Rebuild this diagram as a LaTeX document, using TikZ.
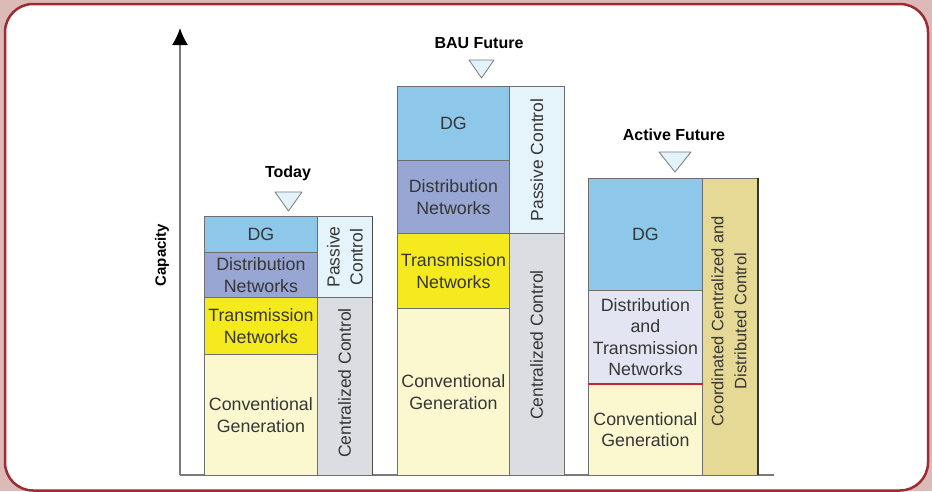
\documentclass[tikz,border=0pt]{standalone}
\usepackage{fontspec}
\setmainfont{Liberation Sans}
\usetikzlibrary{arrows.meta}
\definecolor{outerbg}{HTML}{DBBAB8}
\definecolor{framered}{HTML}{9E2B31}
\definecolor{dgblue}{HTML}{8DC8EA}
\definecolor{distblue}{HTML}{97A6D3}
\definecolor{transyellow}{HTML}{F5EA1E}
\definecolor{convyellow}{HTML}{FBF8CF}
\definecolor{passivebg}{HTML}{E5F4FB}
\definecolor{centralbg}{HTML}{DCDDE2}
\definecolor{dtbg}{HTML}{E3E5F2}
\definecolor{coordbg}{HTML}{E5D995}
\definecolor{labelgray}{HTML}{363636}
\definecolor{edgegray}{HTML}{6E6E6E}
\definecolor{axisgray}{HTML}{7A7A7A}
\definecolor{trifill}{HTML}{E2F3FB}
\definecolor{linered}{HTML}{CC2233}
\tikzset{
  cell/.style={draw=edgegray, line width=0.8pt, inner sep=0pt, anchor=north west,
    align=center, text=labelgray, font=\fontsize{17.8}{21.5}\selectfont},
  vlabel/.style={rotate=90, align=center, text=labelgray, inner sep=0pt},
  title/.style={font=\bfseries\fontsize{16}{19}\selectfont, text=black, inner sep=0pt},
  marker/.style={draw=axisgray, fill=trifill, line width=0.8pt, line join=round},
  axisline/.style={draw=axisgray, line width=1.5pt}
}
\begin{document}
\begin{tikzpicture}[x=1pt,y=-1pt]
\useasboundingbox (0,0) rectangle (932,491);
\begin{scope}
\clip (0,0) rectangle (932,491);
\fill[outerbg] (0,0) rectangle (932,491);
\draw[framered, fill=white, line width=2.5pt, rounded corners=28pt] (5,4) rectangle (928,490.5);
\end{scope}

% axes
\coordinate (orig) at (180,475);
\coordinate (ytop) at (180,28);
\coordinate (xend) at (774,475);
\draw[axisline] (orig) -- (xend);
\draw[axisline, -{Latex[length=17pt,width=16pt,color=black,fill=black]}] (orig) -- (ytop);
\node[rotate=90, font=\bfseries\fontsize{15}{17}\selectfont, inner sep=0pt] (cap) at (162,255) {Capacity};

% Today
\node[cell, fill=dgblue, minimum width=113pt, minimum height=36pt] (tdg) at (204,216) {DG};
\node[cell, fill=distblue, minimum width=113pt, minimum height=45pt] (tdist) at (204,252) {Distribution\\Networks};
\node[cell, fill=transyellow, minimum width=113pt, minimum height=57pt] (ttrans) at (204,297) {Transmission\\Networks};
\node[cell, fill=convyellow, minimum width=113pt, minimum height=121pt] (tconv) at (204,354) {Conventional\\Generation};
\node[cell, fill=passivebg, minimum width=55pt, minimum height=81pt] (tpass) at (317,216) {};
\node[cell, fill=centralbg, minimum width=55pt, minimum height=178pt] (tcent) at (317,297) {};
\node[vlabel, font=\fontsize{17.5}{23}\selectfont] (tpassl) at (tpass.center) {Passive\\Control};
\node[vlabel, font=\fontsize{17.5}{21}\selectfont] (tcentl) at (344.5,383) {Centralized Control};
\draw[axisgray!60!black, line width=1pt] (372,216) -- (372,475);
\node[title] (ttitle) at (288,173) {Today};
\draw[marker] (275,192) -- (302,192) -- (288.5,211) -- cycle;

% BAU Future
\node[cell, fill=dgblue, minimum width=112pt, minimum height=74pt] (bdg) at (397,86) {DG};
\node[cell, fill=distblue, minimum width=112pt, minimum height=73pt] (bdist) at (397,160) {Distribution\\Networks};
\node[cell, fill=transyellow, minimum width=112pt, minimum height=75pt] (btrans) at (397,233) {Transmission\\Networks};
\node[cell, fill=convyellow, minimum width=112pt, minimum height=167pt] (bconv) at (397,308) {Conventional\\Generation};
\node[cell, fill=passivebg, minimum width=55pt, minimum height=147pt] (bpass) at (509,86) {};
\node[cell, fill=centralbg, minimum width=55pt, minimum height=242pt] (bcent) at (509,233) {};
\node[vlabel, font=\fontsize{17.5}{21}\selectfont] (bpassl) at (bpass.center) {Passive Control};
\node[vlabel, font=\fontsize{17.5}{21}\selectfont] (bcentl) at (536.5,345) {Centralized Control};
\node[title] (btitle) at (479,43) {BAU Future};
\draw[marker] (469,60) -- (494,60) -- (481.5,78) -- cycle;

% Active Future
\node[cell, fill=dgblue, minimum width=114pt, minimum height=112pt] (adg) at (588,178) {DG};
\node[cell, fill=dtbg, minimum width=114pt, minimum height=93pt] (adt) at (588,290) {Distribution\\and\\Transmission\\Networks};
\node[cell, fill=convyellow, minimum width=114pt, minimum height=92pt] (aconv) at (588,383) {Conventional\\Generation};
\node[cell, fill=coordbg, minimum width=56pt, minimum height=297pt] (acoord) at (702,178) {};
\node[vlabel, font=\fontsize{16.5}{23}\selectfont] (acoordl) at (729,321) {Coordinated Centralized and\\Distributed Control};
\draw[linered, line width=1.8pt] (adt.south west) -- (adt.south east);
\draw[black!80, line width=1.2pt] (758,178) -- (758,475);
\node[title] (atitle) at (674,135) {Active Future};
\draw[marker] (659,152) -- (691,152) -- (675,172) -- cycle;
\end{tikzpicture}
\end{document}
